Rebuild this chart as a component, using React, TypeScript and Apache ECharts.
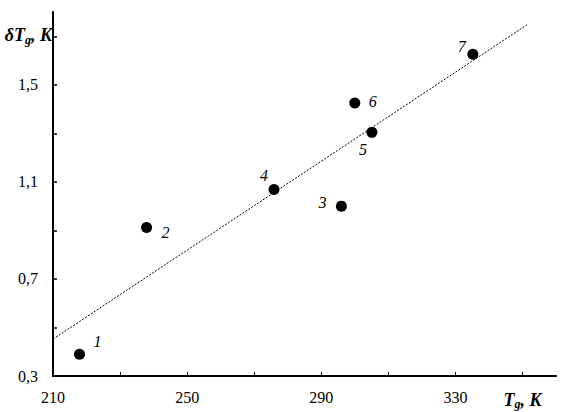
import React, { useEffect, useRef } from "react";
import * as echarts from "echarts";

const pointIds = ["1", "2", "3", "4", "5", "6", "7"];
const pointX = [217.9, 237.9, 296.0, 275.9, 305.1, 300.0, 335.2];
const pointY = [0.39, 0.912, 1.0, 1.069, 1.304, 1.425, 1.626];
const fitX = [210, 351.3];
const fitY = [0.452, 1.747];
const xTicks = [210, 230, 250, 270, 290, 310, 330, 350];
const xLabelValues = [210, 250, 290, 330];
const yTicks = [0.3, 0.5, 0.7, 0.9, 1.1, 1.3, 1.5, 1.7];
const yLabelValues = [0.3, 0.7, 1.1, 1.5];
const xTitleAt = 350;

// label offsets (styling) for each point's number
const labelOffsets: [number, number][] = [
  [18, -13], [19, 5], [-19, -4], [-10, -14], [-9, 17], [18, -2], [-11, -8],
];

const FONT = "'Liberation Serif', 'DejaVu Serif', serif";

export default function App() {
  const ref = useRef<HTMLDivElement>(null);
  useEffect(() => {
    if (!ref.current) return;
    const chart = echarts.init(ref.current, undefined, { renderer: "svg" });
    const titleRich = {
      b: { fontFamily: FONT, fontSize: 18, fontWeight: "bold", fontStyle: "italic", color: "#000" },
      s: { fontFamily: FONT, fontSize: 12, fontWeight: "bold", fontStyle: "italic", color: "#000", verticalAlign: "bottom", padding: [9, 0, 0, 0] },
    };
    chart.setOption({
      animation: false,
      grid: { left: 53, right: 21, top: 12, bottom: 36, containLabel: false },
      xAxis: {
        type: "value",
        min: 210,
        max: 360,
        interval: 20,
        splitLine: { show: false },
        axisLine: { show: true, lineStyle: { color: "#000", width: 2 } },
        axisTick: { show: true, inside: true, length: 4, lineStyle: { color: "#000", width: 1 }, customValues: xTicks },
        axisLabel: {
          customValues: [...xLabelValues, xTitleAt],
          margin: 13,
          fontFamily: FONT,
          fontSize: 16,
          color: "#000",
          formatter: (v: number) => (v === xTitleAt ? "{b|T}{s|g}{b|, K}" : String(v)),
          rich: titleRich,
        },
      },
      yAxis: {
        type: "value",
        min: 0.3,
        max: 1.8,
        splitLine: { show: false },
        axisLine: { show: true, lineStyle: { color: "#000", width: 2 } },
        axisTick: { show: true, inside: true, length: 4, lineStyle: { color: "#000", width: 1.5 }, customValues: yTicks },
        axisLabel: {
          customValues: yLabelValues,
          margin: 15,
          fontFamily: FONT,
          fontSize: 16,
          color: "#000",
          formatter: (v: number) => v.toFixed(1).replace(".", ","),
        },
      },
      graphic: [
        {
          type: "text",
          x: 52,
          y: 35,
          style: {
            text: "{b|δT}{s|g}{b|, K}",
            rich: titleRich,
            align: "right",
            verticalAlign: "middle",
          },
        },
      ],
      series: [
        {
          type: "line",
          data: fitX.map((x, i) => [x, fitY[i]]),
          symbol: "none",
          lineStyle: { color: "#000", width: 1, type: [2, 1.5], opacity: 1 },
          z: 1,
        },
        {
          type: "scatter",
          symbolSize: 11,
          itemStyle: { color: "#000", opacity: 1 },
          data: pointX.map((x, i) => ({
            value: [x, pointY[i]],
            label: {
              show: true,
              formatter: pointIds[i],
              position: "inside",
              offset: labelOffsets[i],
              fontFamily: FONT,
              fontStyle: "italic",
              fontSize: 16,
              color: "#000",
              opacity: 1,
            },
          })),
          z: 2,
        },
      ],
    });
    return () => chart.dispose();
  }, []);
  return (
    <div
      ref={ref}
      style={{ position: "absolute", left: 0, top: 0, width: 577, height: 412, background: "#fff" }}
    />
  );
}
